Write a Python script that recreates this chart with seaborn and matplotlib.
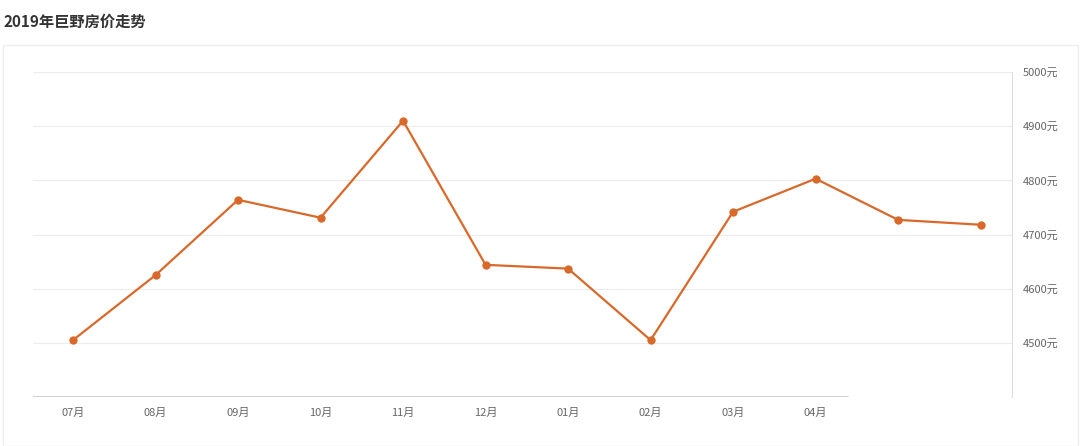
import matplotlib
matplotlib.use('Agg')
import matplotlib.pyplot as plt
import seaborn as sns
import pandas as pd
from matplotlib.patches import Rectangle

sns.set_style('white')
plt.rcParams['font.family'] = ['Noto Sans CJK SC', 'DejaVu Sans']

# data
months = ['07月', '08月', '09月', '10月', '11月', '12月', '01月', '02月', '03月', '04月', '', '']
prices = [4505, 4625, 4764, 4731, 4910, 4644, 4637, 4505, 4742, 4803, 4727, 4718]
y_ticks = [4500, 4600, 4700, 4800, 4900, 5000]

df = pd.DataFrame({'idx': range(len(prices)), 'price': prices})

fig = plt.figure(figsize=(10.8, 4.46), dpi=100)
fig.patches.append(Rectangle((3 / 1080, 0), 1075 / 1080, 1 - 45 / 446, transform=fig.transFigure,
                             fill=False, edgecolor='#eeeeee', linewidth=1))
fig.text(3 / 1080, 1 - 22 / 446, '2019年巨野房价走势', fontsize=11, fontweight='bold',
         color='#333333', va='center')

ax = fig.add_axes([33 / 1080, 1 - 397 / 446, 979 / 1080, (397 - 72) / 446])
sns.lineplot(data=df, x='idx', y='price', ax=ax, color='#d9692a', linewidth=1.6,
             marker='o', markersize=6, markeredgewidth=0)

ax.set_xlim(-0.485, 11.38)
ax.set_ylim(4400, 5000)
for v in y_ticks:
    ax.axhline(v, color='#ececec', linewidth=0.8, zorder=0)
ax.axhline(4400, xmax=(848 - 33) / 979, color='#c8c8c8', linewidth=1.2)

for s in ['top', 'left', 'bottom']:
    ax.spines[s].set_visible(False)
ax.spines['right'].set_color('#dddddd')
ax.yaxis.tick_right()
ax.set_yticks(y_ticks)
ax.set_yticklabels([f'{v}元' for v in y_ticks], fontsize=8, color='#666666')
ax.set_xticks(range(len(months)))
ax.set_xticklabels(months, fontsize=8, color='#666666')
ax.tick_params(axis='both', length=0, pad=8)
ax.set_xlabel('')
ax.set_ylabel('')

plt.savefig('out.png', dpi=100)
